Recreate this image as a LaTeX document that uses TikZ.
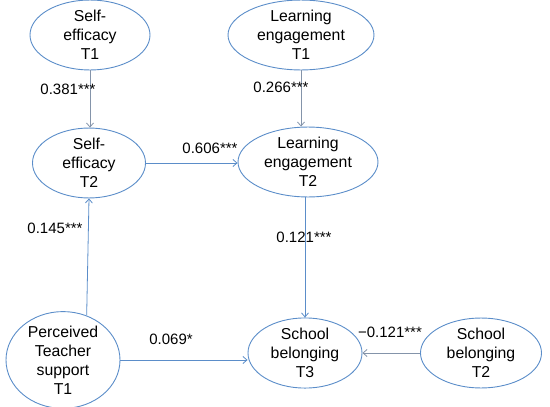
\documentclass[tikz,border=0pt]{standalone}
\usepackage{fontspec}
\setmainfont{Liberation Sans}
\usetikzlibrary{shapes.geometric,arrows.meta}
\definecolor{ellblue}{HTML}{5B8DC9}
\definecolor{arrblue}{HTML}{5B8DC9}
\definecolor{arrgray}{HTML}{8494AA}
\tikzset{
  latent/.style={draw=ellblue, line width=0.9pt, ellipse, inner sep=0pt, align=center,
    font=\fontsize{15.8}{19}\selectfont},
  coef/.style={font=\fontsize{15}{17}\selectfont, inner sep=0pt},
  arr/.style={draw=arrblue, line width=0.8pt, -{Straight Barb[length=4pt,width=7pt]}},
  garr/.style={draw=arrgray, line width=0.8pt, -{Straight Barb[length=4pt,width=7pt]}},
}
\begin{document}
\begin{tikzpicture}[x=1pt,y=-1pt]
\useasboundingbox (0,0) rectangle (550,407);
\node[latent, minimum width=120, minimum height=55] (se1) at (90,35) {Self-\\efficacy\\T1};
\node[latent, minimum width=113, minimum height=55] (se2) at (89,163) {Self-\\efficacy\\T2};
\node[latent, minimum width=146, minimum height=55] (le1) at (301,35) {Learning\\engagement\\T1};
\node[latent, minimum width=140, minimum height=56] (le2) at (308,162) {Learning\\engagement\\T2};
\node[latent, minimum width=114, minimum height=76] (pts) at (63,360) {Perceived\\Teacher\\support\\T1};
\node[latent, minimum width=114, minimum height=53] (sb3) at (305,353) {School\\belonging\\T3};
\node[latent, minimum width=121, minimum height=53] (sb2) at (481,353) {School\\belonging\\T2};

\draw[garr] (se1.south) -- (se1.south |- se2.north);
\draw[garr] (le1.south) -- (le1.south |- le2.north);
\draw[arr] (se2.east) -- (se2.east -| le2.west);
\draw[arr] (pts.62) -- (se2.south);
\draw[arr] (le2.south -| sb3.north) -- (sb3.north);
\draw[arr] (pts.east) -- (pts.east -| sb3.west);
\draw[garr] (sb2.west) -- (sb2.west -| sb3.east);

\node[coef] (c1) at (68,89) {0.381***};
\node[coef] (c2) at (281,87) {0.266***};
\node[coef] (c3) at (210,148) {0.606***};
\node[coef] (c4) at (55,228) {0.145***};
\node[coef] (c5) at (304,237) {0.121***};
\node[coef] (c6) at (171,339) {0.069*};
\node[coef] (c7) at (390,332) {−0.121***};
\end{tikzpicture}
\end{document}
